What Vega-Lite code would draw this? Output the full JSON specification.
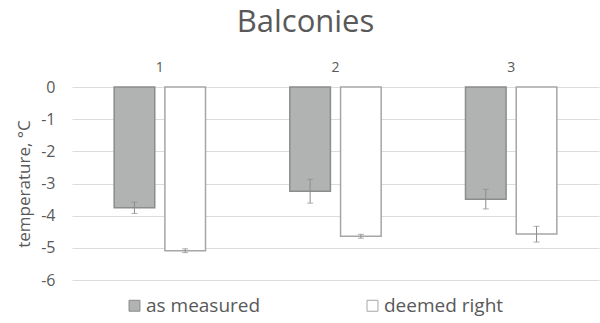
{
  "$schema": "https://vega.github.io/schema/vega-lite/v6.json",
  "width": 527,
  "height": 193,
  "autosize": {"type": "none"},
  "padding": {"left": 72, "top": 87, "right": 1, "bottom": 43},
  "background": "white",
  "title": {
    "text": "Balconies",
    "font": "Open Sans",
    "fontSize": 31,
    "fontWeight": "normal",
    "color": "#595959",
    "anchor": "middle",
    "frame": "group",
    "dx": -30,
    "offset": 21
  },
  "config": {
    "view": {"stroke": null},
    "font": "Open Sans",
    "axis": {"labelFont": "Open Sans", "titleFont": "Open Sans", "labelColor": "#595959", "titleColor": "#595959"},
    "legend": {"labelFont": "Open Sans", "labelColor": "#595959"}
  },
  "data": {
    "values": [
      {"group": "1", "series": "as measured", "value": -3.75, "lo": -3.93, "hi": -3.58},
      {"group": "1", "series": "deemed right", "value": -5.09, "lo": -5.15, "hi": -5.03},
      {"group": "2", "series": "as measured", "value": -3.24, "lo": -3.61, "hi": -2.87},
      {"group": "2", "series": "deemed right", "value": -4.64, "lo": -4.7, "hi": -4.58},
      {"group": "3", "series": "as measured", "value": -3.49, "lo": -3.79, "hi": -3.18},
      {"group": "3", "series": "deemed right", "value": -4.57, "lo": -4.82, "hi": -4.33}
    ]
  },
  "encoding": {
    "x": {
      "field": "group",
      "type": "nominal",
      "scale": {"paddingInner": 0.48, "paddingOuter": 0.24},
      "axis": {
        "orient": "top",
        "title": null,
        "labelAngle": 0,
        "domain": false,
        "ticks": false,
        "labelFontSize": 14,
        "labelPadding": 13
      }
    },
    "xOffset": {
      "field": "series",
      "type": "nominal",
      "scale": {"paddingInner": 0.2, "paddingOuter": 0}
    }
  },
  "layer": [
    {
      "mark": {"type": "bar", "strokeWidth": 1.5},
      "encoding": {
        "y": {
          "field": "value",
          "type": "quantitative",
          "scale": {"domain": [-6, 0], "nice": false, "zero": false},
          "axis": {
            "title": "temperature, °C",
            "titleFontSize": 17,
            "titleFontWeight": "normal",
            "titlePadding": 7,
            "values": [0, -1, -2, -3, -4, -5, -6],
            "labelOverlap": false,
            "labelExpr": "'' + datum.value",
            "labelFontSize": 16,
            "labelPadding": 17,
            "domain": false,
            "ticks": false,
            "gridColor": "#dcdcdc",
            "gridWidth": 1
          }
        },
        "y2": {"datum": 0},
        "fill": {
          "field": "series",
          "type": "nominal",
          "scale": {"domain": ["as measured", "deemed right"], "range": ["#b1b3b3", "#ffffff"]},
          "legend": {
            "orient": "none",
            "legendX": 53,
            "legendY": 209,
            "direction": "horizontal",
            "title": null,
            "symbolType": "square",
            "symbolSize": 120,
            "symbolStrokeWidth": 1,
            "labelFontSize": 19,
            "labelOffset": 2,
            "columnPadding": 102,
            "symbolStrokeColor": "#8c8c8c"
          }
        },
        "stroke": {
          "field": "series",
          "type": "nominal",
          "scale": {"domain": ["as measured", "deemed right"], "range": ["#8c8c8c", "#a6a6a6"]},
          "legend": null
        }
      }
    },
    {
      "mark": {"type": "rule", "color": "#8c8c8c", "strokeWidth": 1},
      "encoding": {
        "y": {
          "field": "lo",
          "type": "quantitative",
          "axis": {
            "title": "temperature, °C",
            "titleFontSize": 17,
            "titleFontWeight": "normal",
            "titlePadding": 7,
            "values": [0, -1, -2, -3, -4, -5, -6],
            "labelOverlap": false,
            "labelExpr": "'' + datum.value",
            "labelFontSize": 16,
            "labelPadding": 17,
            "domain": false,
            "ticks": false,
            "gridColor": "#dcdcdc",
            "gridWidth": 1
          }
        },
        "y2": {"field": "hi"}
      }
    },
    {
      "mark": {"type": "tick", "color": "#8c8c8c", "thickness": 1, "size": 6},
      "encoding": {
        "y": {
          "field": "lo",
          "type": "quantitative",
          "axis": {
            "title": "temperature, °C",
            "titleFontSize": 17,
            "titleFontWeight": "normal",
            "titlePadding": 7,
            "values": [0, -1, -2, -3, -4, -5, -6],
            "labelOverlap": false,
            "labelExpr": "'' + datum.value",
            "labelFontSize": 16,
            "labelPadding": 17,
            "domain": false,
            "ticks": false,
            "gridColor": "#dcdcdc",
            "gridWidth": 1
          }
        }
      }
    },
    {
      "mark": {"type": "tick", "color": "#8c8c8c", "thickness": 1, "size": 6},
      "encoding": {
        "y": {
          "field": "hi",
          "type": "quantitative",
          "axis": {
            "title": "temperature, °C",
            "titleFontSize": 17,
            "titleFontWeight": "normal",
            "titlePadding": 7,
            "values": [0, -1, -2, -3, -4, -5, -6],
            "labelOverlap": false,
            "labelExpr": "'' + datum.value",
            "labelFontSize": 16,
            "labelPadding": 17,
            "domain": false,
            "ticks": false,
            "gridColor": "#dcdcdc",
            "gridWidth": 1
          }
        }
      }
    }
  ]
}
